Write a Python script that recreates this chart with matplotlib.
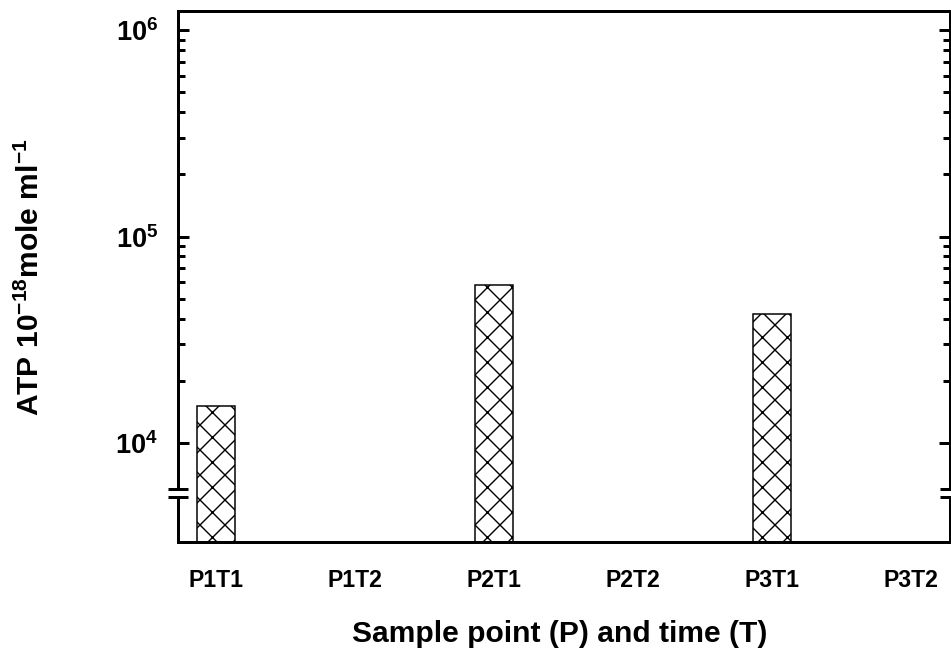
import numpy as np
import matplotlib
matplotlib.use("Agg")
import matplotlib.pyplot as plt
from matplotlib.ticker import FixedLocator, NullFormatter, FixedFormatter
import matplotlib.transforms as mtransforms

# ---- data ----
categories = ["P1T1", "P1T2", "P2T1", "P2T2", "P3T1", "P3T2"]
atp_values = [15000, None, 58500, None, 42000, None]
major_ticks = [1e4, 1e5, 1e6]
major_labels = [r"10$^{4}$", r"10$^{5}$", r"10$^{6}$"]

DPI = 150
W, H = 951, 655


def px(v):
    return v * 72.0 / DPI


plt.rcParams["font.family"] = ["Liberation Sans", "DejaVu Sans"]
plt.rcParams["font.weight"] = "bold"
plt.rcParams["mathtext.fontset"] = "custom"
plt.rcParams["mathtext.rm"] = "Liberation Sans:bold"
plt.rcParams["mathtext.bf"] = "Liberation Sans:bold"
plt.rcParams["mathtext.it"] = "Liberation Sans:bold"
plt.rcParams["mathtext.default"] = "rm"
plt.rcParams["hatch.linewidth"] = px(1.4)

fig = plt.figure(figsize=(W / DPI, 655.2 / DPI), dpi=DPI)
left, right, top, bottom = 178, 949.5, 11, 542.5
ax = fig.add_axes([left / W, (H - bottom) / H, (right - left) / W, (bottom - top) / H])

x = np.arange(len(categories))
bx = [xi for xi, v in zip(x, atp_values) if v is not None]
bv = [v for v in atp_values if v is not None]
ax.bar(bx, bv, width=0.274, color="white", edgecolor="black",
       linewidth=px(1.5), hatch="xx", zorder=2)

ax.set_yscale("log")
ax.set_ylim(3284, 1.243e6)
ax.set_xlim(-0.274, 5.28)

ax.yaxis.set_major_locator(FixedLocator(major_ticks))
ax.yaxis.set_major_formatter(FixedFormatter(major_labels))
minor = [m * d for d in (1e4, 1e5) for m in range(2, 10)]
ax.yaxis.set_minor_locator(FixedLocator(minor))
ax.yaxis.set_minor_formatter(NullFormatter())

ax.set_xticks(x)
ax.set_xticklabels(categories, fontsize=px(23), fontweight="bold")
ax.tick_params(axis="x", length=0, pad=px(26))
ax.tick_params(axis="y", which="major", direction="in", length=px(11), width=px(3),
               labelsize=px(27), pad=px(20), right=True)
ax.tick_params(axis="y", which="minor", direction="in", length=px(7), width=px(3), right=True)
for lbl in ax.get_yticklabels():
    lbl.set_fontweight("bold")

for s in ax.spines.values():
    s.set_linewidth(px(3))

# axis break marks
trans = mtransforms.blended_transform_factory(ax.transAxes, ax.transData)
y_lo, y_hi = 5460, 5970
for xa in (0.0, 1.0):
    ax.fill_between([xa - 0.006, xa + 0.006], [y_lo, y_lo], [y_hi, y_hi],
                    transform=trans, color="white", zorder=5, clip_on=False, linewidth=0)
    for yy in (y_lo, y_hi):
        ax.plot([xa - 0.0125, xa + 0.0125], [yy, yy], transform=trans, color="black",
                linewidth=px(3), solid_capstyle="butt", zorder=6, clip_on=False)

fig.text(560 / W, (H - 634) / H, "Sample point (P) and time (T)", fontsize=px(30),
         fontweight="bold", ha="center", va="center")
fig.text(30 / W, (H - 277) / H, r"ATP 10$^{-18}$mole ml$^{-1}$",
         fontsize=px(30), fontweight="bold", ha="center", va="center", rotation=90)

fig.savefig("out.png", dpi=DPI)
